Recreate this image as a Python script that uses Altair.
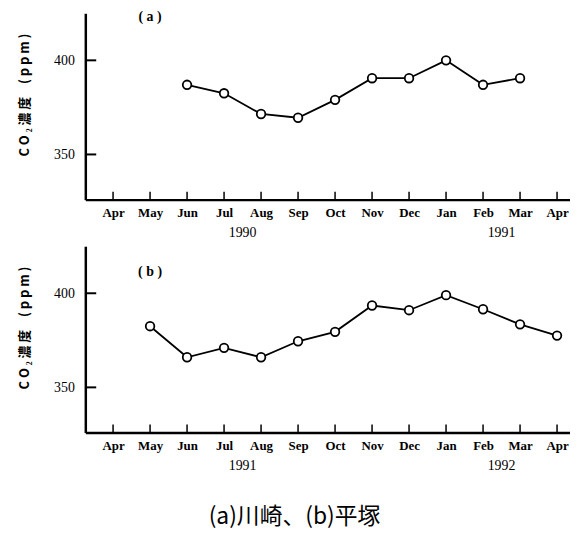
import altair as alt
import pandas as pd

MONTHS = ["Apr", "May", "Jun", "Jul", "Aug", "Sep", "Oct", "Nov", "Dec", "Jan", "Feb", "Mar", "Apr"]
A_FIRST = 2  # first observed month index (Jun)
A_CO2 = [387, 382.5, 371.5, 369.5, 379, 390.5, 390.5, 400, 387, 390.5]
B_FIRST = 1  # first observed month index (May)
B_CO2 = [382.5, 366, 371, 366, 374.5, 379.5, 393.5, 391, 399, 391.5, 383.5, 377.5]
A_YEARS = ["1990", "1991"]
B_YEARS = ["1991", "1992"]
YEAR_POS = [3.5, 10.5]
Y_TICKS = [350, 400]
TAG_POS = [1]
Y_TITLE = "C O ₂ 濃 度　( p p m )"
CAPTION = "(a)川崎、(b)平塚"

W, H = 489, 188
XDOM = [-0.75, 12.35]
YDOM = [326, 425]

label_expr = "[" + ",".join("'" + m + "'" for m in MONTHS) + "][datum.value]"

SERIF = "Liberation Serif"


def panel(first, values, years, tag, tag_y):
    df = pd.DataFrame({"m": list(range(first, first + len(values))), "co2": values})
    xs = alt.Scale(domain=XDOM, nice=False, zero=False)
    ys = alt.Scale(domain=YDOM, nice=False, zero=False)
    xaxis = alt.Axis(values=list(range(len(MONTHS))), labelExpr=label_expr, ticks=False, grid=False,
                     domainColor="black", domainWidth=2.5, labelFont=SERIF, labelFontSize=13,
                     labelFontWeight="bold", labelColor="black", labelPadding=7, title=None,
                     labelFlush=False)
    yaxis = alt.Axis(values=Y_TICKS, ticks=False, grid=False, domainColor="black", domainWidth=2.5,
                     labelFont=SERIF, labelFontSize=14, labelColor="black", labelPadding=11,
                     title=Y_TITLE, titleFont="Noto Sans CJK JP", titleFontSize=13,
                     titleFontWeight="bold", titleColor="black", titlePadding=22, titleY=82)
    X = alt.X("m:Q", scale=xs, axis=xaxis)
    Y = alt.Y("co2:Q", scale=ys, axis=yaxis)

    line = alt.Chart(df).mark_line(color="black", strokeWidth=1.8).encode(x=X, y=Y)
    pts = alt.Chart(df).mark_circle(fill="white", stroke="black", strokeWidth=1.8, size=75,
                                    opacity=1).encode(x=X, y=Y)
    xt = alt.Chart(pd.DataFrame({"m": list(range(len(MONTHS)))})).mark_rule(
        color="black", strokeWidth=1.5).encode(x=X, y=alt.value(H), y2=alt.value(H - 8))
    yt = alt.Chart(pd.DataFrame({"co2": Y_TICKS})).mark_rule(
        color="black", strokeWidth=2).encode(y=Y, x=alt.value(0), x2=alt.value(11))
    yr = alt.Chart(pd.DataFrame({"m": YEAR_POS, "t": years})).mark_text(
        font=SERIF, fontSize=14, baseline="middle", color="black").encode(
        x=X, y=alt.value(H + 34), text="t:N")
    tg = alt.Chart(pd.DataFrame({"m": TAG_POS, "t": [tag]})).mark_text(
        font=SERIF, fontSize=14, fontWeight="bold", baseline="middle", color="black").encode(
        x=X, y=alt.value(tag_y), text="t:N")
    return alt.layer(line, pts, xt, yt, yr, tg).properties(width=W, height=H)


pa = panel(A_FIRST, A_CO2, A_YEARS, "( a )", 4)
pb = panel(B_FIRST, B_CO2, B_YEARS, "( b )", 26)

chart = alt.vconcat(pa, pb, spacing=6).properties(
    padding={"left": 11, "top": 0, "right": 0, "bottom": 0},
    title=alt.TitleParams(text=CAPTION, orient="bottom", anchor="middle", fontSize=23,
                          font="Noto Sans CJK JP", fontWeight="normal", color="black", offset=33),
    background="white",
).configure_view(stroke=None)

chart.save("out.html", embed_options={"renderer": "svg", "actions": False})
